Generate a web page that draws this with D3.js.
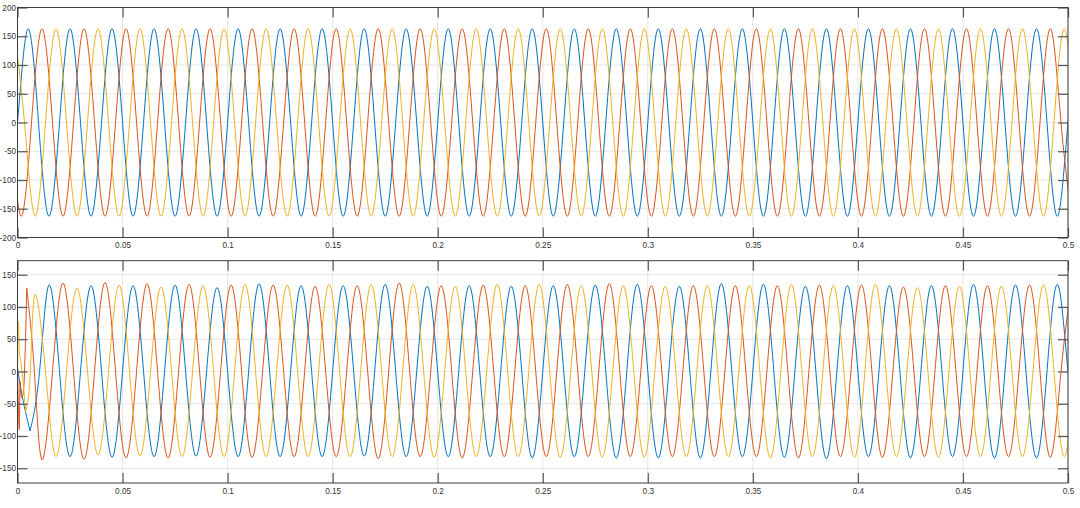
<!DOCTYPE html>
<html><head><meta charset="utf-8">
<script src="https://cdn.jsdelivr.net/npm/d3@7"></script>
<style>
body{margin:0;background:#fff;}
svg{display:block;font-family:"Liberation Sans",Arial,Helvetica,sans-serif;}
</style>
</head><body>
<svg id="chart" width="1080" height="508"></svg>
<script>
// ---------------- data ----------------
const xTicks = [0, 0.05, 0.1, 0.15, 0.2, 0.25, 0.3, 0.35, 0.4, 0.45, 0.5];
const xTickLabels = ["0", "0.05", "0.1", "0.15", "0.2", "0.25", "0.3", "0.35", "0.4", "0.45", "0.5"];
const topYTicks = [-200, -150, -100, -50, 0, 50, 100, 150, 200];
const topYTickLabels = ["-200", "-150", "-100", "-50", "0", "50", "100", "150", "200"];
const bottomYTicks = [-150, -100, -50, 0, 50, 100, 150];
const bottomYTickLabels = ["-150", "-100", "-50", "0", "50", "100", "150"];
const seriesColors = ["#0072BD", "#D95319", "#EDB120"];
const halfPeriod = 0.01; // spacing between successive extremes (50 Hz)

// time of first listed extreme for each phase (blue, red, yellow)
const topFirstExtreme = [-0.005, -0.00833, -0.00167];
const topBlue = [
  -163,163,-163,163,-163,163,-163,163,-163,163,
  -163,163,-163,163,-163,163,-163,163,-163,163,
  -163,163,-163,163,-163,163,-163,163,-163,163,
  -163,163,-163,163,-163,163,-163,163,-163,163,
  -163,163,-163,163,-163,163,-163,163,-163,163,
  -163,163];
const topRed = [
  163,-163,163,-163,163,-163,163,-163,163,-163,
  163,-163,163,-163,163,-163,163,-163,163,-163,
  163,-163,163,-163,163,-163,163,-163,163,-163,
  163,-163,163,-163,163,-163,163,-163,163,-163,
  163,-163,163,-163,163,-163,163,-163,163,-163,
  163,-163];
const topYellow = [
  163,-163,163,-163,163,-163,163,-163,163,-163,
  163,-163,163,-163,163,-163,163,-163,163,-163,
  163,-163,163,-163,163,-163,163,-163,163,-163,
  163,-163,163,-163,163,-163,163,-163,163,-163,
  163,-163,163,-163,163,-163,163,-163,163,-163,
  163,-163];

const bottomFirstExtreme = [0.015, 0.01167, 0.00833];
const bottomBlue = [
  134,-132,133,-133,133,-132,134,-131,130,-132,
  136,-132,133,-132,133,-131,135,-132,132,-132,
  133,-132,132,-134,133,-132,134,-134,135,-134,
  132,-134,136,-132,135,-133,132,-135,133,-132,
  133,-134,133,-132,135,-134,134,-134,135,-133];
const bottomRed = [
  -137,137,-136,138,-134,136,-134,135,-133,134,
  -133,134,-132,132,-132,133,-135,137,-132,133,
  -134,134,-132,133,-132,135,-132,136,-132,133,
  -132,133,-132,133,-132,133,-134,134,-132,134,
  -133,131,-132,133,-132,133,-132,134,-133,134];
const bottomYellow = [
  119,-132,129,-129,134,-131,131,-132,133,-132,
  135,-132,134,-132,135,-132,135,-132,135,-133,
  132,-132,135,-132,135,-133,133,-133,133,-133,
  132,-132,133,-132,133,-134,135,-132,133,-133,
  135,-132,130,-133,132,-132,132,-132,134,-132,
  133];
// start-up transient samples [t, value]
const bottomBlueStart = [[0, 5], [0.0015, -25], [0.006, -92]];
const bottomRedStart = [[0, 10], [0.0009, -90], [0.0012, -15], [0.0018, -40], [0.0027, -35], [0.0044, 129]];
const bottomYellowStart = [[0, 0], [0.0004, 77], [0.0009, 30], [0.0016, 15], [0.0039, -62]];

// ---------------- helpers ----------------
function buildPoints(startPts, firstT, extremes) {
  const pts = [];
  let prevT = startPts.length ? startPts[startPts.length - 1][0] : null;
  if (startPts.length) pts.push(startPts[startPts.length - 1]);
  extremes.forEach((v, i) => {
    const t = firstT + i * halfPeriod;
    if (prevT !== null) pts.push([(prevT + t) / 2, 0]);
    pts.push([t, v]);
    prevT = t;
  });
  return pts;
}

const svg = d3.select("#chart");
svg.append("rect").attr("width", 1080).attr("height", 508).attr("fill", "#fff");

const x = d3.scaleLinear().domain([0, 0.5]).range([17.5, 1068]);
const tickLen = 10;
const gridColor = "#e6e6e6";
const axisColor = "#3c3c3c";
const textColor = "#333";

function drawPanel(id, yDomain, yRange, yTicks, yLabels, series) {
  const y = d3.scaleLinear().domain(yDomain).range(yRange);
  const top = yRange[1], bottom = yRange[0];
  const left = x.range()[0], right = x.range()[1];
  const g = svg.append("g");

  // grid
  g.append("g").selectAll("line").data(yTicks).join("line")
    .attr("x1", left).attr("x2", right)
    .attr("y1", d => y(d)).attr("y2", d => y(d))
    .attr("stroke", gridColor).attr("stroke-width", 1);
  g.append("g").selectAll("line").data(xTicks).join("line")
    .attr("y1", top).attr("y2", bottom)
    .attr("x1", d => x(d)).attr("x2", d => x(d))
    .attr("stroke", gridColor).attr("stroke-width", 1);

  // data
  const clipId = "clip-" + id;
  g.append("clipPath").attr("id", clipId).append("rect")
    .attr("x", left).attr("y", top).attr("width", right - left).attr("height", bottom - top);
  const dg = g.append("g").attr("clip-path", `url(#${clipId})`);
  const lineNat = d3.line().x(d => x(d[0])).y(d => y(d[1])).curve(d3.curveNatural);
  const lineMono = d3.line().x(d => x(d[0])).y(d => y(d[1])).curve(d3.curveMonotoneX);
  series.forEach((s, i) => {
    if (s.start.length > 1) {
      dg.append("path").attr("d", lineMono(s.start))
        .attr("fill", "none").attr("stroke", seriesColors[i]).attr("stroke-width", 1);
    }
    dg.append("path").attr("d", lineNat(buildPoints(s.start, s.first, s.values)))
      .attr("fill", "none").attr("stroke", seriesColors[i]).attr("stroke-width", 1)
      .attr("stroke-linejoin", "round");
  });

  // axes
  const styleAxis = sel => {
    sel.select(".domain").remove();
    sel.selectAll(".tick line").attr("stroke", "#555").attr("stroke-width", 1.2);
    sel.selectAll(".tick text").attr("fill", textColor).attr("font-size", 8.2)
      .attr("font-family", '"Liberation Sans", Arial, sans-serif');
  };
  g.append("g").attr("transform", `translate(${left},0)`)
    .call(d3.axisLeft(y).tickValues(yTicks).tickFormat((d, i) => yLabels[i])
      .tickSize(-tickLen).tickPadding(1.5).tickSizeOuter(0))
    .call(styleAxis);
  g.append("g").attr("transform", `translate(${right},0)`)
    .call(d3.axisRight(y).tickValues(yTicks).tickSize(-tickLen).tickFormat("").tickSizeOuter(0))
    .call(styleAxis);
  g.append("g").attr("transform", `translate(0,${bottom})`)
    .call(d3.axisBottom(x).tickValues(xTicks).tickFormat((d, i) => xTickLabels[i])
      .tickSize(-tickLen).tickPadding(5).tickSizeOuter(0))
    .call(styleAxis);
  g.append("g").attr("transform", `translate(0,${top})`)
    .call(d3.axisTop(x).tickValues(xTicks).tickSize(-tickLen).tickFormat("").tickSizeOuter(0))
    .call(styleAxis);

  // box
  g.append("rect").attr("x", left).attr("y", top)
    .attr("width", right - left).attr("height", bottom - top)
    .attr("fill", "none").attr("stroke", axisColor).attr("stroke-width", 1);
}

drawPanel("top", [-200, 200], [237.5, 7.5], topYTicks, topYTickLabels, [
  { start: [], first: topFirstExtreme[0], values: topBlue },
  { start: [], first: topFirstExtreme[1], values: topRed },
  { start: [], first: topFirstExtreme[2], values: topYellow }
]);
drawPanel("bottom", [-172.8, 171.7], [483, 260.7], bottomYTicks, bottomYTickLabels, [
  { start: bottomBlueStart, first: bottomFirstExtreme[0], values: bottomBlue },
  { start: bottomRedStart, first: bottomFirstExtreme[1], values: bottomRed },
  { start: bottomYellowStart, first: bottomFirstExtreme[2], values: bottomYellow }
]);
</script>
</body></html>
